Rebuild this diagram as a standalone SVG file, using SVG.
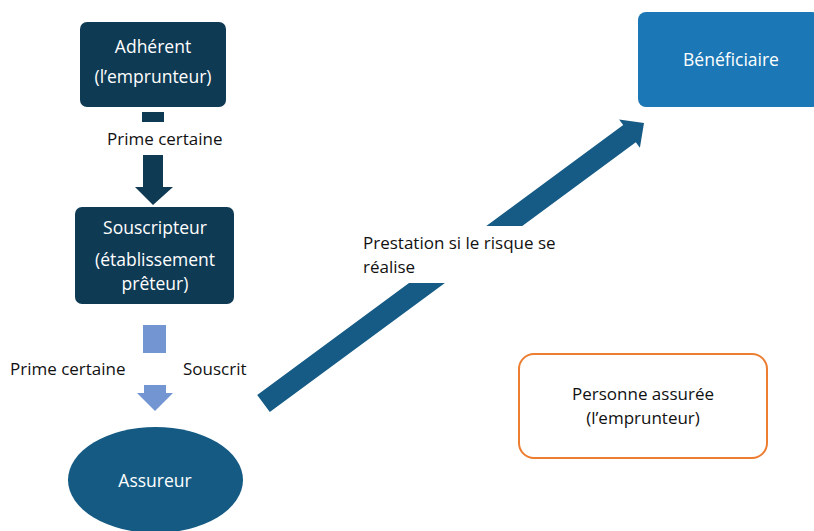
<svg xmlns="http://www.w3.org/2000/svg" width="814" height="531" viewBox="0 0 814 531">
<style>
text{font-family:"Open Sans","Liberation Sans",sans-serif;font-size:17px;}
.w{fill:#ffffff;text-anchor:middle;font-size:17.5px;}
.k{fill:#111111;}
.c{text-anchor:middle;}
.navy{fill:#0f3a54;}
</style>
<rect width="814" height="531" fill="#ffffff"/>
<g id="connectors">
  <rect class="navy" x="142" y="112" width="22" height="10"/>
  <polygon class="navy" points="143,155 163,155 163,187 173,187 153,205 135,187 143,187"/>
  <rect x="143" y="325" width="23" height="28" fill="#7395d2"/>
  <polygon fill="#7395d2" points="144,385 166,385 166,393 173,393 155,411 137,393 144,393"/>
  <polygon fill="#155b85" points="257.2,394.9 623.2,125.1 619.1,119.6 644,123 639.9,147.8 635.8,142.3 269.8,412.1"/>
  <rect x="352" y="226" width="215" height="57" fill="#ffffff"/>
  <text class="k" x="363" y="249">Prestation si le risque se</text>
  <text class="k" x="363" y="273">réalise</text>
  <text class="k" x="107" y="145">Prime certaine</text>
  <text class="k" x="10" y="375">Prime certaine</text>
  <text class="k" x="183" y="375">Souscrit</text>
</g>
<g id="adherent">
  <rect class="navy" x="80" y="22" width="146" height="85" rx="7"/>
  <text class="w" x="153" y="53">Adhérent</text>
  <text class="w" x="153" y="83">(l’emprunteur)</text>
</g>
<g id="souscripteur">
  <rect class="navy" x="75" y="207" width="159" height="97" rx="7"/>
  <text class="w" x="155" y="234">Souscripteur</text>
  <text class="w" x="155" y="266">(établissement</text>
  <text class="w" x="155" y="290">prêteur)</text>
</g>
<g id="assureur">
  <ellipse cx="155.5" cy="480" rx="87.5" ry="53" fill="#145a83"/>
  <text class="w" x="155" y="487">Assureur</text>
</g>
<g id="beneficiaire">
  <rect x="638" y="12" width="182" height="95" rx="8" fill="#1b77b5"/>
  <text class="w" x="731" y="66">Bénéficiaire</text>
</g>
<g id="personne">
  <rect x="519" y="354" width="248" height="104" rx="15" fill="#ffffff" stroke="#ed7d31" stroke-width="2"/>
  <text class="k c" x="643" y="400">Personne assurée</text>
  <text class="k c" x="643" y="424">(l’emprunteur)</text>
</g>
</svg>
